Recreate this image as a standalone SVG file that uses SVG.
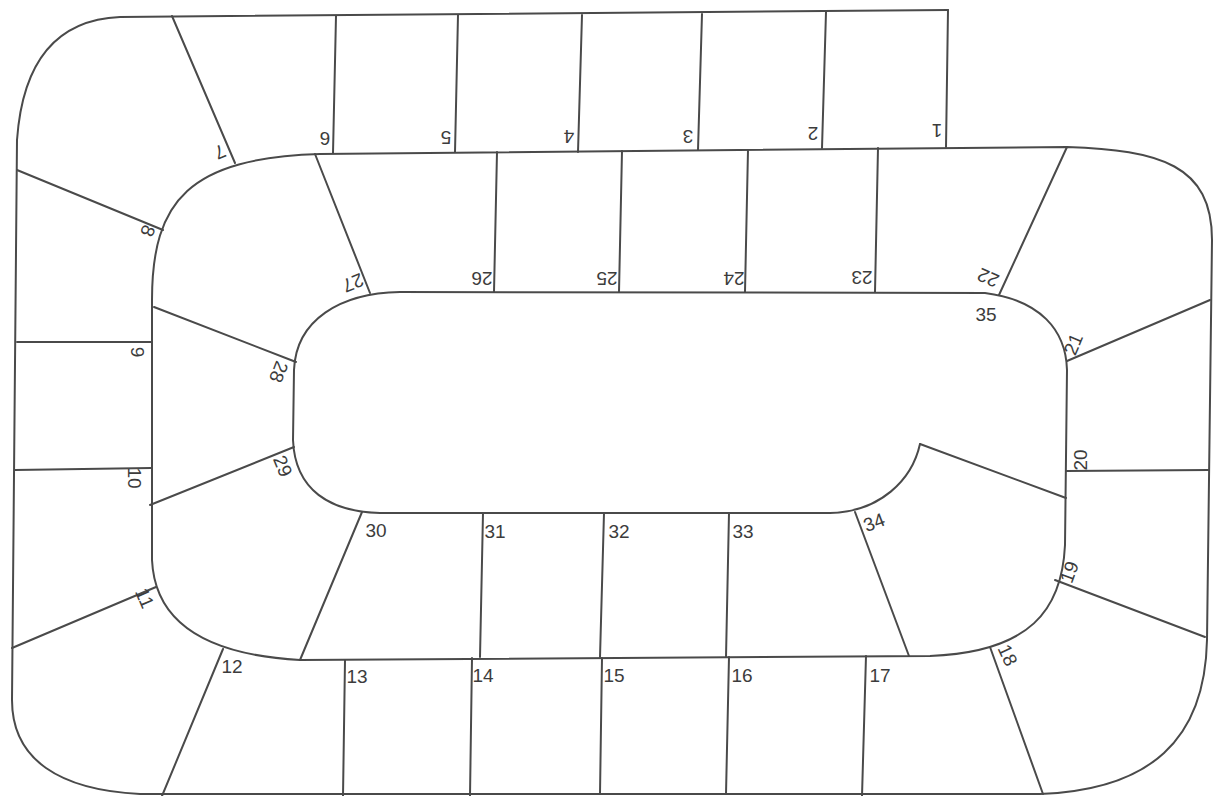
<svg xmlns="http://www.w3.org/2000/svg" width="1215" height="796" viewBox="0 0 1215 796">
<style>
.ln{fill:none;stroke:#4a4a4a;stroke-width:2;stroke-linecap:round;stroke-linejoin:round}
.lb{font-family:"Liberation Sans Narrow","Liberation Sans",Arial,sans-serif;font-size:19px;fill:#3c3c3c;text-anchor:middle}
</style>
<rect width="1215" height="796" fill="#ffffff"/>
<g id="track">
<path class="ln" d="M 920,444 C 912,480 880,512 830,513 L 380,513 C 330,512 295,490 293,440 L 294,370 C 296,320 340,293 400,292 L 985,293 C 1040,300 1066,330 1067,370 L 1065,545 C 1062,610 1030,652 930,656 L 300,660 C 210,655 155,625 152,560 L 152,300 C 152,200 190,158 320,154 L 1067,147 C 1160,150 1212,165 1212,240 L 1207,640 C 1205,740 1150,790 1040,794 L 140,794 C 60,790 12,760 12,700 L 17,140 C 22,70 50,20 120,17 L 948,10"/>
</g>
<g id="squares">
<g id="sq-1"><line class="ln" x1="948" y1="10" x2="946" y2="147"/><text class="lb" dy="0.36em" transform="translate(937,131) rotate(180)">1</text></g>
<g id="sq-2"><line class="ln" x1="826" y1="12" x2="822" y2="148"/><text class="lb" dy="0.36em" transform="translate(813,134) rotate(180)">2</text></g>
<g id="sq-3"><line class="ln" x1="702" y1="14" x2="698" y2="150"/><text class="lb" dy="0.36em" transform="translate(688,137) rotate(180)">3</text></g>
<g id="sq-4"><line class="ln" x1="582" y1="15" x2="578" y2="152"/><text class="lb" dy="0.36em" transform="translate(569,137) rotate(180)">4</text></g>
<g id="sq-5"><line class="ln" x1="458" y1="15" x2="455" y2="152"/><text class="lb" dy="0.36em" transform="translate(446,138) rotate(180)">5</text></g>
<g id="sq-6"><line class="ln" x1="336" y1="16" x2="333" y2="153"/><text class="lb" dy="0.36em" transform="translate(325,139) rotate(180)">6</text></g>
<g id="sq-7"><line class="ln" x1="172" y1="16" x2="235" y2="163"/><text class="lb" dy="0.36em" transform="translate(220,152) rotate(157)">7</text></g>
<g id="sq-8"><line class="ln" x1="17" y1="170" x2="163" y2="230"/><text class="lb" dy="0.36em" transform="translate(148,231) rotate(112)">8</text></g>
<g id="sq-9"><line class="ln" x1="17" y1="342" x2="152" y2="342"/><text class="lb" dy="0.36em" transform="translate(138,352) rotate(90)">9</text></g>
<g id="sq-10"><line class="ln" x1="15" y1="470" x2="151" y2="468"/><text class="lb" dy="0.36em" transform="translate(135,478) rotate(90)">10</text></g>
<g id="sq-11"><line class="ln" x1="12" y1="648" x2="156" y2="587"/><text class="lb" dy="0.36em" transform="translate(145,598) rotate(67)">11</text></g>
<g id="sq-12"><line class="ln" x1="162" y1="796" x2="223" y2="649"/><text class="lb" dy="0.36em" transform="translate(232,666)">12</text></g>
<g id="sq-13"><line class="ln" x1="345" y1="660" x2="343" y2="796"/><text class="lb" dy="0.36em" transform="translate(357,676)">13</text></g>
<g id="sq-14"><line class="ln" x1="472" y1="658" x2="470" y2="796"/><text class="lb" dy="0.36em" transform="translate(483,675)">14</text></g>
<g id="sq-15"><line class="ln" x1="602" y1="658" x2="600" y2="794"/><text class="lb" dy="0.36em" transform="translate(614,675)">15</text></g>
<g id="sq-16"><line class="ln" x1="729" y1="657" x2="726" y2="794"/><text class="lb" dy="0.36em" transform="translate(742,675)">16</text></g>
<g id="sq-17"><line class="ln" x1="866" y1="656" x2="862" y2="796"/><text class="lb" dy="0.36em" transform="translate(880,675)">17</text></g>
<g id="sq-18"><line class="ln" x1="990" y1="647" x2="1043" y2="794"/><text class="lb" dy="0.36em" transform="translate(1008,655) rotate(65)">18</text></g>
<g id="sq-19"><line class="ln" x1="1055" y1="580" x2="1205" y2="637"/><text class="lb" dy="0.36em" transform="translate(1069,572) rotate(-70)">19</text></g>
<g id="sq-20"><line class="ln" x1="1066" y1="471" x2="1209" y2="470"/><text class="lb" dy="0.36em" transform="translate(1080,460) rotate(-90)">20</text></g>
<g id="sq-21"><line class="ln" x1="1067" y1="361" x2="1210" y2="300"/><text class="lb" dy="0.36em" transform="translate(1073,344) rotate(-67)">21</text></g>
<g id="sq-22"><line class="ln" x1="1067" y1="147" x2="999" y2="295"/><text class="lb" dy="0.36em" transform="translate(988,278) rotate(204)">22</text></g>
<g id="sq-23"><line class="ln" x1="878" y1="148" x2="875" y2="292"/><text class="lb" dy="0.36em" transform="translate(862,278) rotate(180)">23</text></g>
<g id="sq-24"><line class="ln" x1="748" y1="150" x2="745" y2="292"/><text class="lb" dy="0.36em" transform="translate(734,279) rotate(180)">24</text></g>
<g id="sq-25"><line class="ln" x1="622" y1="151" x2="619" y2="292"/><text class="lb" dy="0.36em" transform="translate(607,279) rotate(180)">25</text></g>
<g id="sq-26"><line class="ln" x1="497" y1="152" x2="494" y2="292"/><text class="lb" dy="0.36em" transform="translate(482,279) rotate(180)">26</text></g>
<g id="sq-27"><line class="ln" x1="315" y1="154" x2="370" y2="293"/><text class="lb" dy="0.36em" transform="translate(353,283) rotate(158)">27</text></g>
<g id="sq-28"><line class="ln" x1="154" y1="307" x2="296" y2="362"/><text class="lb" dy="0.36em" transform="translate(279,372) rotate(111)">28</text></g>
<g id="sq-29"><line class="ln" x1="150" y1="505" x2="294" y2="447"/><text class="lb" dy="0.36em" transform="translate(283,466) rotate(68)">29</text></g>
<g id="sq-30"><line class="ln" x1="300" y1="660" x2="362" y2="512"/><text class="lb" dy="0.36em" transform="translate(376,530)">30</text></g>
<g id="sq-31"><line class="ln" x1="483" y1="513" x2="480" y2="657"/><text class="lb" dy="0.36em" transform="translate(495,531)">31</text></g>
<g id="sq-32"><line class="ln" x1="604" y1="513" x2="600" y2="657"/><text class="lb" dy="0.36em" transform="translate(619,531)">32</text></g>
<g id="sq-33"><line class="ln" x1="729" y1="513" x2="726" y2="657"/><text class="lb" dy="0.36em" transform="translate(743,531)">33</text></g>
<g id="sq-34"><line class="ln" x1="855" y1="512" x2="909" y2="656"/><text class="lb" dy="0.36em" transform="translate(874,522) rotate(-21)">34</text></g>
<g id="sq-35"><line class="ln" x1="920" y1="444" x2="1066" y2="498"/><text class="lb" dy="0.36em" transform="translate(986,314)">35</text></g>
</g>
</svg>
